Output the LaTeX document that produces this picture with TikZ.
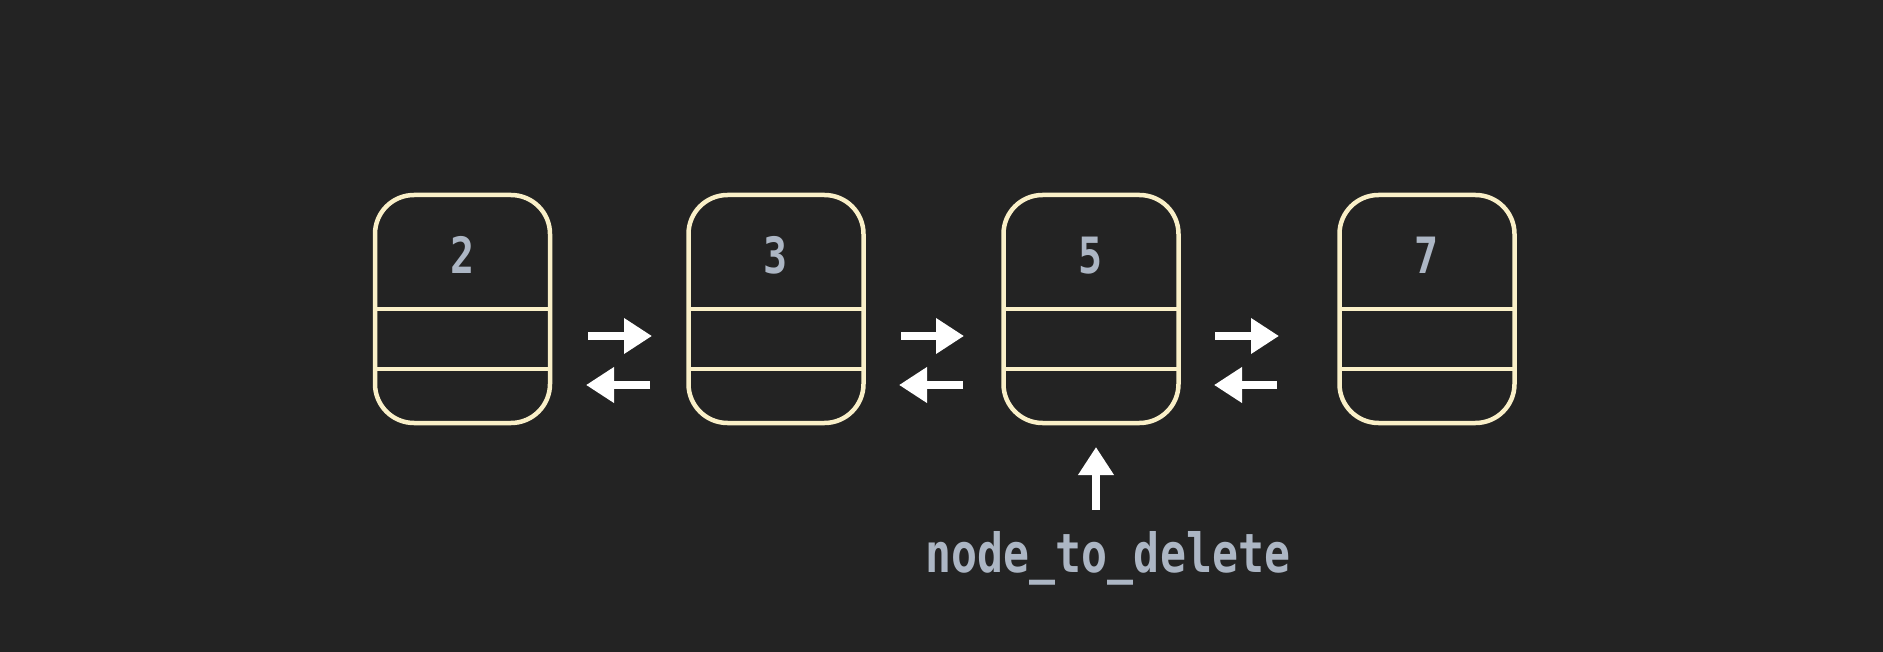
\documentclass[tikz,border=0pt]{standalone}
\usepackage{fontspec}
\usetikzlibrary{arrows.meta}
\newfontfamily\codefont[FakeStretch=0.8]{DejaVu Sans Mono}
\definecolor{bgcol}{RGB}{35,35,35}
\definecolor{cellcol}{RGB}{250,240,200}
\definecolor{txtcol}{RGB}{172,182,196}
\begin{document}
\begin{tikzpicture}[x=1pt,y=-1pt,
  listnode/.style={draw=cellcol, line width=4.5pt, rounded corners=39pt,
    minimum width=175pt, minimum height=228pt, inner sep=0pt, outer sep=0pt},
  divider/.style={draw=cellcol, line width=4.5pt},
  valtext/.style={text=txtcol, anchor=base, inner sep=0pt,
    font=\codefont\bfseries\fontsize{50}{50}\selectfont},
  lbltext/.style={text=txtcol, anchor=base, inner sep=0pt,
    font=\codefont\bfseries\fontsize{54}{54}\selectfont},
  ptr/.style={draw=white, line width=8pt,
    -{Triangle[length=28pt 0 0, width=34pt 0 0, fill=white]}}]
  % canvas
  \fill[bgcol] (0,0) rectangle (1883,652);
  \useasboundingbox (0,0) rectangle (1883,652);

  % list cells: value / next / prev
  \foreach \name/\cx/\val in {a/462.5/2, b/776/3, c/1091/5, d/1427/7} {
    \node[listnode] (\name) at (\cx,309) {};
    \draw[divider] (\name.west) -- (\name.east);
    \draw[divider] ([yshift=-60pt]\name.west) -- ([yshift=-60pt]\name.east);
    \node[valtext] (\name v) at (\cx,274) {\val};
  }

  % next / prev pointers between neighbouring cells
  \foreach \i/\rt/\rh/\lh/\lt in {1/588/652/586/650, 2/901/964/899/963, 3/1215/1279/1214/1277} {
    \coordinate (nx\i t) at (\rt,336);
    \coordinate (nx\i h) at (\rh,336);
    \coordinate (pv\i t) at (\lt,385);
    \coordinate (pv\i h) at (\lh,385);
    \draw[ptr] (nx\i t) -- (nx\i h);
    \draw[ptr] (pv\i t) -- (pv\i h);
  }

  % label pointing at the cell to remove
  \node[lbltext] (lbl) at (1108,572) {node\_to\_delete};
  \coordinate (upt) at (1096,510);
  \coordinate (uph) at (1096,447);
  \draw[ptr] (upt) -- (uph);
\end{tikzpicture}
\end{document}
